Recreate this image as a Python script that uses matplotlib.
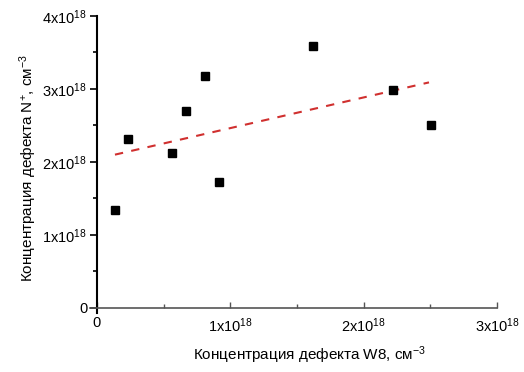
import matplotlib
matplotlib.use("Agg")
import matplotlib.pyplot as plt

plt.rcParams['font.family'] = ['Liberation Sans', 'DejaVu Sans']
plt.rcParams['mathtext.fontset'] = 'custom'
plt.rcParams['mathtext.rm'] = 'Liberation Sans'
plt.rcParams['mathtext.it'] = 'Liberation Sans'

# values in units of 1e18
w8 = [0.135, 0.233, 0.563, 0.668, 0.81, 0.918, 1.623, 2.223, 2.506]
nplus = [1.34, 2.315, 2.12, 2.70, 3.18, 1.73, 3.59, 2.99, 2.51]
fit_x = [0.135, 2.49]
fit_y = [2.10, 3.09]
x_ticks = [0, 1, 2, 3]
x_labels = ['0', '1x10$^{18}$', '2x10$^{18}$', '3x10$^{18}$']
y_ticks = [0, 1, 2, 3, 4]
y_labels = ['0', '1x10$^{18}$', '2x10$^{18}$', '3x10$^{18}$', '4x10$^{18}$']

fig = plt.figure(figsize=(5.24, 3.72), dpi=100)
ax = fig.add_axes([0.1723, 0.1586, 0.9485 - 0.1723, 0.957 - 0.1586])

ax.plot(w8, nplus, 's', color='black', markersize=5.5, zorder=3)
ax.plot(fit_x, fit_y, '--', color='#d0302f', lw=1.5, dashes=(4, 4), zorder=2)

ax.set_xlim(-0.05, 3.0)
ax.set_ylim(-0.07, 4.0)
ax.spines['left'].set_position(('data', 0))
ax.spines['bottom'].set_position(('data', 0))
ax.spines['top'].set_visible(False)
ax.spines['right'].set_visible(False)
ax.spines['left'].set_linewidth(1.5)
ax.spines['left'].set_color('black')
ax.spines['bottom'].set_linewidth(1.2)
ax.spines['bottom'].set_color('#555555')

ax.set_xticks(x_ticks)
ax.set_xticklabels(x_labels)
ax.set_xticks([0.5, 1.5, 2.5], minor=True)
ax.set_yticks(y_ticks)
ax.set_yticklabels(y_labels)
ax.set_yticks([0.5, 1.5, 2.5, 3.5], minor=True)

ax.tick_params(axis='x', which='major', direction='in', length=4, width=1, color='#555555', labelsize=10.5, pad=6)
ax.tick_params(axis='x', which='minor', direction='in', length=3, width=1, color='#555555')
ax.tick_params(axis='y', which='major', direction='out', length=5, width=1.2, labelsize=10.5, pad=2)
ax.tick_params(axis='y', which='minor', direction='out', length=3, width=1.2)

fig.text(310 / 524, 1 - 355 / 372, 'Концентрация дефекта W8, см$^{-3}$',
         fontsize=11, ha='center', va='center')
fig.text(28 / 524, 1 - 168 / 372, 'Концентрация дефекта N$^{+}$, см$^{-3}$',
         fontsize=11, ha='center', va='center', rotation=90)

fig.savefig('out.png', dpi=100)
